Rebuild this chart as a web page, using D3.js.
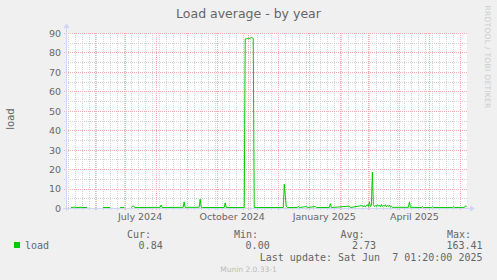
<!DOCTYPE html>
<html>
<head>
<meta charset="utf-8">
<script src="https://cdn.jsdelivr.net/npm/d3@7"></script>
<style>
  body { margin: 0; background: #f0f0f0; }
  svg { display: block; }
  text { font-family: "DejaVu Sans", sans-serif; fill: #666; }
  .mono { font-family: "DejaVu Sans Mono", monospace; font-size: 10px; }
</style>
</head>
<body>
<div id="chart"></div>
<script>
// --- 1. DATA ---
// daily load values (null = no data)
var loadDates = [
  "2024-05-08", "2024-05-12", "2024-05-14", "2024-05-18", "2024-05-20", "2024-05-24", "2024-05-25",
  "2024-06-09", "2024-06-16", "2024-06-17",
  "2024-06-26", "2024-06-30", "2024-07-01",
  "2024-07-07", "2024-07-09", "2024-07-11", "2024-08-05", "2024-08-06", "2024-08-07",
  "2024-08-28", "2024-08-29", "2024-08-30", "2024-09-13", "2024-09-14", "2024-09-15", "2024-09-16",
  "2024-10-08", "2024-10-09", "2024-10-10", "2024-10-28",
  "2024-10-29", "2024-10-30", "2024-10-31", "2024-11-01", "2024-11-02", "2024-11-03", "2024-11-04",
  "2024-11-05", "2024-11-06", "2024-11-07",
  "2024-12-06", "2024-12-07", "2024-12-08", "2024-12-09", "2024-12-10",
  "2024-12-20", "2024-12-21", "2024-12-22", "2024-12-29", "2024-12-30",
  "2025-01-07", "2025-01-08", "2025-01-21", "2025-01-22", "2025-01-23",
  "2025-02-10", "2025-02-11", "2025-02-23", "2025-02-24", "2025-02-25", "2025-02-26",
  "2025-02-27", "2025-02-28", "2025-03-01", "2025-03-02", "2025-03-03", "2025-03-04",
  "2025-03-05", "2025-03-06", "2025-03-07", "2025-03-08", "2025-03-09", "2025-03-10",
  "2025-03-11", "2025-03-12", "2025-03-13", "2025-03-14", "2025-03-15", "2025-03-16",
  "2025-03-17", "2025-03-18", "2025-03-19", "2025-03-20", "2025-03-21", "2025-03-22",
  "2025-03-23", "2025-03-24", "2025-03-25",
  "2025-04-10", "2025-04-11", "2025-04-12", "2025-04-23", "2025-04-24", "2025-04-25",
  "2025-05-03", "2025-05-04", "2025-05-05", "2025-05-24", "2025-05-25", "2025-05-26",
  "2025-06-05", "2025-06-06", "2025-06-07"
];
var loadValues = [
  0.5, 0.7, 0.5, 0.6, 0.5, 0.5, null,
  0.5, 0.5, null,
  0.5, 0.5, null,
  0.5, 1.4, 0.5, 0.6, 1.8, 0.5,
  0.6, 3.4, 0.6, 0.6, 4.8, 0.8, 0.5,
  0.5, 2.9, 0.5, 0.5,
  87.2, 87.3, 87.4, 87.5, 87.4, 87.6, 88.0,
  87.7, 87.5, 0.5,
  0.5, 12.5, 6.5, 1.2, 0.5,
  0.5, 1.2, 0.5, 1.0, 0.5,
  1.0, 0.5, 0.5, 2.5, 0.5,
  1.2, 0.5, 1.5, 0.8, 1.5, 0.7,
  1.5, 2.0, 1.0, 3.4, 1.0, 1.5,
  18.7, 2.0, 1.0, 1.5, 1.0, 2.0,
  1.2, 1.8, 0.9, 2.1, 1.0, 1.6,
  1.2, 2.0, 0.8, 1.5, 1.0, 1.8,
  0.8, 1.2, 0.6,
  0.6, 3.4, 0.6, 0.5, 1.0, 0.5,
  0.5, 0.9, 0.5, 0.5, 0.9, 0.5,
  0.6, 1.4, 0.84
];
var yTicks = [0, 10, 20, 30, 40, 50, 60, 70, 80, 90];
var yMinorTicks = [5, 15, 25, 35, 45, 55, 65, 75, 85];
var xLabelMonths = ["2024-07-01", "2024-10-01", "2025-01-01", "2025-04-01"];
var legendHeads = ["Cur:", "Min:", "Avg:", "Max:"];
var legendStats = ["0.84", "0.00", "2.73", "163.41"];

// --- 2. SETUP ---
var width = 497, height = 280;
var parseDay = d3.timeParse("%Y-%m-%d");

var svg = d3.select("#chart").append("svg")
  .attr("width", width)
  .attr("height", height);

svg.append("rect").attr("width", width).attr("height", height).attr("fill", "#f0f0f0");

var x = d3.scaleTime()
  .domain([new Date(2024, 4, 4), new Date(2025, 5, 7, 12)])
  .range([67, 467]);
var y = d3.scaleLinear().domain([0, 90]).range([208.5, 33.5]);

function px(v) { return Math.round(v - 0.5) + 0.5; }

// canvas
svg.append("rect")
  .attr("x", 67).attr("y", 33)
  .attr("width", 400).attr("height", 175)
  .attr("fill", "#fff");

// --- 3. GRID ---
var weeks = d3.timeSunday.range(x.domain()[0], x.domain()[1]);
var months = d3.timeMonth.range(x.domain()[0], x.domain()[1]);

var grid = svg.append("g").attr("stroke-dasharray", "1,1").attr("stroke-width", 1);

grid.selectAll(".hminor").data(yMinorTicks).enter().append("line")
  .attr("x1", 64).attr("x2", 467)
  .attr("y1", d => px(y(d))).attr("y2", d => px(y(d)))
  .attr("stroke", "#d2d2d2");

grid.selectAll(".vminor").data(weeks).enter().append("line")
  .attr("x1", d => px(x(d))).attr("x2", d => px(x(d)))
  .attr("y1", 33).attr("y2", 211)
  .attr("stroke", "#d2d2d2");

grid.selectAll(".hmajor").data(yTicks).enter().append("line")
  .attr("x1", 64).attr("x2", 467)
  .attr("y1", d => px(y(d))).attr("y2", d => px(y(d)))
  .attr("stroke", "#f4acac");

grid.selectAll(".vmajor").data(months).enter().append("line")
  .attr("x1", d => px(x(d))).attr("x2", d => px(x(d)))
  .attr("y1", 33).attr("y2", 211)
  .attr("stroke", "#f4acac");

// --- 4. AXES ---
var axisColor = "#cfd6f8";
svg.append("line").attr("x1", 63).attr("x2", 470).attr("y1", 208.5).attr("y2", 208.5)
  .attr("stroke", axisColor);
svg.append("line").attr("x1", 66.5).attr("x2", 66.5).attr("y1", 211).attr("y2", 28)
  .attr("stroke", axisColor);
svg.append("path").attr("d", "M470,205.5 L475,208.5 L470,211.5 Z").attr("fill", axisColor);
svg.append("path").attr("d", "M63.5,28 L66.5,23 L69.5,28 Z").attr("fill", axisColor);

svg.selectAll(".ylab").data(yTicks).enter().append("text")
  .attr("x", 61).attr("y", d => y(d))
  .attr("dy", "0.36em")
  .attr("text-anchor", "end")
  .style("font-size", "9.5px")
  .text(d => d);

var fmtLabel = d3.timeFormat("%B %Y");
svg.selectAll(".xlab").data(xLabelMonths).enter().append("text")
  .attr("x", d => x(d3.timeDay.offset(parseDay(d), 15)))
  .attr("y", 219.5)
  .attr("text-anchor", "middle")
  .style("font-size", "9.5px")
  .text(d => fmtLabel(parseDay(d)));

// --- 5. LINE ---
var series = loadDates.map((d, i) => ({ date: parseDay(d), value: loadValues[i] }));
var line = d3.line()
  .defined(d => d.value !== null)
  .x(d => x(d.date))
  .y(d => y(d.value));

svg.append("path")
  .datum(series)
  .attr("d", line)
  .attr("fill", "none")
  .attr("stroke", "#00cc00")
  .attr("stroke-width", 1);

// --- 6. TEXTS ---
svg.append("text")
  .attr("x", 248.5).attr("y", 18)
  .attr("text-anchor", "middle")
  .style("font-size", "12.5px")
  .text("Load average - by year");

svg.append("text")
  .attr("transform", "translate(13.5,119) rotate(-90)")
  .attr("text-anchor", "middle")
  .style("font-size", "10px")
  .text("load");

svg.append("text")
  .attr("transform", "translate(485,57) rotate(90)")
  .attr("text-anchor", "middle")
  .style("font-size", "7.5px")
  .style("fill", "#cccccc")
  .style("letter-spacing", "0.3px")
  .text("RRDTOOL / TOBI OETIKER");

// legend
var headX = [127, 234, 340.5, 447];
var statX = [162.7, 269.7, 376, 482.5];

svg.append("rect").attr("x", 14).attr("y", 242).attr("width", 6).attr("height", 6)
  .attr("fill", "#00cc00");
svg.append("text").attr("class", "mono").attr("x", 25).attr("y", 249).text("load");

svg.selectAll(".lhead").data(legendHeads).enter().append("text")
  .attr("class", "mono")
  .attr("x", (d, i) => headX[i]).attr("y", 237.5)
  .text(d => d);

svg.selectAll(".lstat").data(legendStats).enter().append("text")
  .attr("class", "mono")
  .attr("x", (d, i) => statX[i]).attr("y", 249)
  .attr("text-anchor", "end")
  .text(d => d);

svg.append("text").attr("class", "mono")
  .attr("x", 482.5).attr("y", 260.8)
  .attr("text-anchor", "end")
  .style("white-space", "pre")
  .text("Last update: Sat Jun  7 01:20:00 2025");

svg.append("text")
  .attr("x", 248.5).attr("y", 272)
  .attr("text-anchor", "middle")
  .style("font-size", "7.5px")
  .style("fill", "#bbb")
  .text("Munin 2.0.33-1");
</script>
</body>
</html>
